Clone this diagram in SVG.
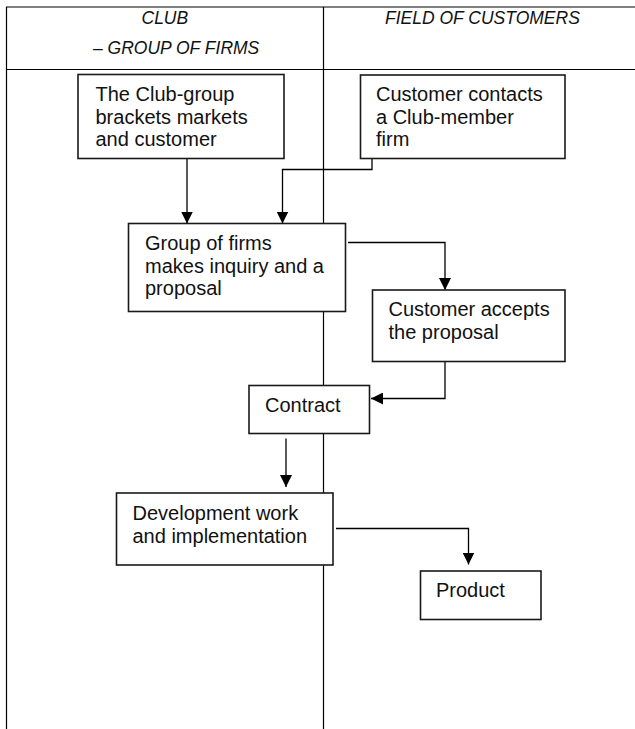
<svg xmlns="http://www.w3.org/2000/svg" width="635" height="729" viewBox="0 0 635 729">
  <style>
    .grid { stroke: #000; stroke-width: 1.2; fill: none; }
    .box { fill: #fff; stroke: #1a1a1a; stroke-width: 1.6; }
    .lbl { font-family: "Liberation Sans", Arial, sans-serif; font-size: 20px; fill: #111; }
    .head { font-family: "Liberation Sans", Arial, sans-serif; font-size: 17.5px; font-style: italic; fill: #111; }
    .conn { stroke: #000; stroke-width: 1.3; fill: none; marker-end: url(#arrow); }
  </style>
  <defs>
    <marker id="arrow" markerUnits="userSpaceOnUse" markerWidth="12" markerHeight="12" viewBox="0 0 12 12" refX="12" refY="6" orient="auto">
      <path d="M0,0 L12,6 L0,12 z" fill="#000"/>
    </marker>
  </defs>

  <rect width="635" height="729" fill="#fff"/>

  <!-- table frame: two columns with a header row -->
  <g id="table">
    <line class="grid" x1="6" y1="7" x2="635" y2="7"/>
    <line class="grid" x1="6" y1="69.5" x2="635" y2="69.5"/>
    <line class="grid" x1="6.5" y1="7" x2="6.5" y2="729"/>
    <line class="grid" x1="323.5" y1="7" x2="323.5" y2="729"/>
    <text class="head" x="141.5" y="23.5">CLUB</text>
    <text class="head" x="93" y="54">– GROUP OF FIRMS</text>
    <text class="head" x="385" y="23.5">FIELD OF CUSTOMERS</text>
  </g>

  <!-- connectors -->
  <g id="connectors">
    <path class="conn" d="M187,158.5 V223.5"/>
    <path class="conn" d="M372,158.5 V169.5 H282.5 V223.5"/>
    <path class="conn" d="M348,242.5 H445 V290"/>
    <path class="conn" d="M445,361.5 V398.5 H371"/>
    <path class="conn" d="M286,438.5 V487"/>
    <path class="conn" d="M336,528.5 H468.5 V564.5"/>
  </g>

  <g id="club-brackets">
    <rect class="box" x="78" y="74.5" width="206" height="84"/>
    <text class="lbl" x="95.5" y="101">The Club-group</text>
    <text class="lbl" x="95.5" y="123.5">brackets markets</text>
    <text class="lbl" x="95.5" y="146">and customer</text>
  </g>

  <g id="customer-contacts">
    <rect class="box" x="360.5" y="75" width="204.5" height="83.5"/>
    <text class="lbl" x="376" y="101">Customer contacts</text>
    <text class="lbl" x="376" y="123.5">a Club-member</text>
    <text class="lbl" x="376" y="146">firm</text>
  </g>

  <g id="group-inquiry">
    <rect class="box" x="128.5" y="223.5" width="217" height="88"/>
    <text class="lbl" x="145" y="250">Group of firms</text>
    <text class="lbl" x="145" y="272.5">makes inquiry and a</text>
    <text class="lbl" x="145" y="295">proposal</text>
  </g>

  <g id="customer-accepts">
    <rect class="box" x="372.5" y="290" width="192.5" height="71.5"/>
    <text class="lbl" x="388.5" y="316">Customer accepts</text>
    <text class="lbl" x="388.5" y="339">the proposal</text>
  </g>

  <g id="contract">
    <rect class="box" x="249" y="385.5" width="120.5" height="48"/>
    <text class="lbl" x="265" y="411.5">Contract</text>
  </g>

  <g id="development">
    <rect class="box" x="116.5" y="493" width="216.5" height="72"/>
    <text class="lbl" x="132.5" y="520">Development work</text>
    <text class="lbl" x="132.5" y="542.5">and implementation</text>
  </g>

  <g id="product">
    <rect class="box" x="420.5" y="571" width="120.5" height="48.5"/>
    <text class="lbl" x="436" y="596.5">Product</text>
  </g>
</svg>
